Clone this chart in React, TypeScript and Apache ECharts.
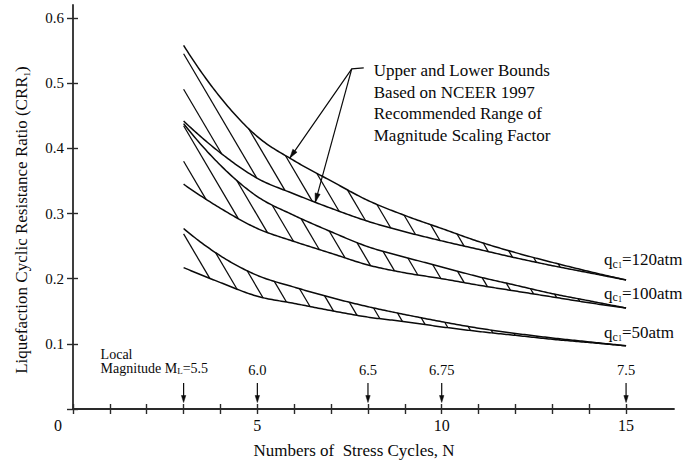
import React, { useEffect, useRef } from 'react';
import * as echarts from 'echarts';

// ---------- data ----------
const cycles = [3, 4, 5, 6, 7, 8, 9, 10, 11, 12, 13, 14, 15];
const upper120 = [0.558, 0.478, 0.418, 0.381, 0.350, 0.320, 0.297, 0.277, 0.257, 0.240, 0.225, 0.211, 0.198];
const lower120 = [0.442, 0.393, 0.354, 0.330, 0.308, 0.288, 0.272, 0.258, 0.245, 0.232, 0.220, 0.209, 0.198];
const upper100 = [0.438, 0.374, 0.326, 0.297, 0.272, 0.249, 0.233, 0.218, 0.203, 0.190, 0.177, 0.166, 0.155];
const lower100 = [0.345, 0.308, 0.277, 0.257, 0.239, 0.221, 0.209, 0.200, 0.190, 0.181, 0.172, 0.163, 0.155];
const upper50 = [0.277, 0.235, 0.205, 0.187, 0.171, 0.157, 0.145, 0.134, 0.124, 0.116, 0.109, 0.103, 0.097];
const lower50 = [0.217, 0.194, 0.173, 0.162, 0.151, 0.141, 0.134, 0.126, 0.119, 0.113, 0.107, 0.102, 0.097];
const bandNames = ['120', '100', '50'];
const magnitudeCycles = [3, 5, 8, 10, 15];
const magnitudeLabels = ['5.5', '6.0', '6.5', '6.75', '7.5'];
const xTickValues = [0, 1, 2, 3, 4, 5, 6, 7, 8, 9, 10, 11, 12, 13, 14, 15];
const xLabelValues = [0, 5, 10, 15];
const yTickValues = [0, 0.1, 0.2, 0.3, 0.4, 0.5, 0.6];
const yLabelValues = [0.1, 0.2, 0.3, 0.4, 0.5, 0.6];
const annotationLines = [
  'Upper and Lower Bounds',
  'Based on NCEER 1997',
  'Recommended Range of',
  'Magnitude Scaling Factor',
];
const pointerCycles = [5.88, 6.57];

// ---------- styles ----------
const FONT = "'Liberation Serif', 'Times New Roman', serif";
const INK = '#0a0a0a';
const AXIS = '#2a2a2a';
const HATCH_SLOPE = 0.0961; // CRR drop per cycle along a hatch line
const HATCH_STEP = 0.0545;
const hatchPhase = [0.779, 0.723, 0.557];
const labelLift = [20, 15, 13];
const annotationAnchor = [7.56, 0.522];

const uppers = [upper120, upper100, upper50];
const lowers = [lower120, lower100, lower50];

function interp(vals: number[], n: number): number {
  const last = cycles.length - 1;
  if (n <= cycles[0]) return vals[0];
  if (n >= cycles[last]) return vals[last];
  let i = 0;
  while (i < last - 1 && n > cycles[i + 1]) i++;
  const h = cycles[i + 1] - cycles[i];
  const u = (n - cycles[i]) / h;
  const tan = (k: number) => {
    if (k === 0) return (-3 * vals[0] + 4 * vals[1] - vals[2]) / (2 * h);
    if (k === last) return (3 * vals[last] - 4 * vals[last - 1] + vals[last - 2]) / (2 * h);
    return (vals[k + 1] - vals[k - 1]) / (cycles[k + 1] - cycles[k - 1]);
  };
  const m0 = tan(i) * h;
  const m1 = tan(i + 1) * h;
  const u2 = u * u;
  const u3 = u2 * u;
  return (2 * u3 - 3 * u2 + 1) * vals[i] + (u3 - 2 * u2 + u) * m0 + (-2 * u3 + 3 * u2) * vals[i + 1] + (u3 - u2) * m1;
}

function solve(vals: number[], K: number): number {
  const g = (n: number) => interp(vals, n) + HATCH_SLOPE * n;
  let a = cycles[0];
  let b = cycles[cycles.length - 1];
  if (K <= g(a)) return a;
  if (K >= g(b)) return b;
  for (let k = 0; k < 50; k++) {
    const m = (a + b) / 2;
    if (g(m) < K) a = m;
    else b = m;
  }
  return (a + b) / 2;
}

function arrowHead(tip: number[], from: number[], len: number, half: number) {
  const dx = tip[0] - from[0];
  const dy = tip[1] - from[1];
  const d = Math.hypot(dx, dy) || 1;
  const ux = dx / d;
  const uy = dy / d;
  const bx = tip[0] - ux * len;
  const by = tip[1] - uy * len;
  return {
    type: 'polygon',
    shape: { points: [tip, [bx - uy * half, by + ux * half], [bx + uy * half, by - ux * half]] },
    style: { fill: INK, stroke: INK, lineWidth: 0.5 },
  };
}

export default function App() {
  const ref = useRef<HTMLDivElement>(null);
  useEffect(() => {
    if (!ref.current) return;
    const chart = echarts.init(ref.current, undefined, { renderer: 'svg' });

    const bandSeries = {
      type: 'custom',
      name: 'bands',
      xAxisIndex: 0,
      yAxisIndex: 0,
      data: [[0, 0], [1, 0], [2, 0]],
      renderItem: (params: any, api: any) => {
        const b = api.value(0) as number;
        const up = uppers[b];
        const lo = lowers[b];
        const children: any[] = [];
        const ptsU: number[][] = [];
        const ptsL: number[][] = [];
        for (let n = cycles[0]; n <= cycles[cycles.length - 1] + 1e-6; n += 0.05) {
          ptsU.push(api.coord([n, interp(up, n)]));
          ptsL.push(api.coord([n, interp(lo, n)]));
        }
        children.push({ type: 'polyline', shape: { points: ptsU }, style: { stroke: INK, lineWidth: 1.5, fill: 'none' } });
        children.push({ type: 'polyline', shape: { points: ptsL }, style: { stroke: INK, lineWidth: 1.5, fill: 'none' } });
        const n0 = cycles[0];
        const n1 = cycles[cycles.length - 1];
        const gU0 = interp(up, n0) + HATCH_SLOPE * n0;
        const gL0 = interp(lo, n0) + HATCH_SLOPE * n0;
        const gU1 = interp(up, n1) + HATCH_SLOPE * n1;
        for (let j = -30; j < 60; j++) {
          const K = hatchPhase[b] + j * HATCH_STEP;
          if (K < gL0 || K > gU1) continue;
          const nStart = K <= gU0 ? n0 : solve(up, K);
          const nEnd = solve(lo, K);
          if (nEnd - nStart < 0.02) continue;
          const p1 = api.coord([nStart, K - HATCH_SLOPE * nStart]);
          const p2 = api.coord([nEnd, K - HATCH_SLOPE * nEnd]);
          children.push({ type: 'line', shape: { x1: p1[0], y1: p1[1], x2: p2[0], y2: p2[1] }, style: { stroke: INK, lineWidth: 1.25 } });
        }
        const end = api.coord([n1, up[up.length - 1]]);
        children.push({
          type: 'text',
          x: end[0] - 22,
          y: end[1] - labelLift[b],
          style: {
            text: `q{c|c}{one|1}=${bandNames[b]}atm`,
            fill: INK,
            fontFamily: FONT,
            fontSize: 17,
            lineHeight: 20,
            align: 'left',
            verticalAlign: 'middle',
            rich: {
              c: { fontFamily: FONT, fontSize: 12, lineHeight: 12, verticalAlign: 'bottom', fill: INK },
              one: { fontFamily: FONT, fontSize: 8, lineHeight: 8, verticalAlign: 'bottom', fill: INK },
            },
          },
        });
        return { type: 'group', children };
      },
      z: 5,
    };

    const magnitudeSeries = {
      type: 'custom',
      name: 'magnitudes',
      xAxisIndex: 0,
      yAxisIndex: 0,
      data: magnitudeCycles.map((n, i) => [n, 0, i]),
      renderItem: (params: any, api: any) => {
        const i = api.value(2) as number;
        const p = api.coord([api.value(0), 0]);
        const children: any[] = [];
        children.push({ type: 'line', shape: { x1: p[0], y1: p[1] - 26, x2: p[0], y2: p[1] - 12 }, style: { stroke: INK, lineWidth: 1.2 } });
        children.push(arrowHead([p[0], p[1] - 6.5], [p[0], p[1] - 26], 7, 2.2));
        if (i === 0) {
          children.push({
            type: 'text',
            x: p[0] - 83,
            y: p[1] - 62,
            style: {
              text: `Local\nMagnitude M{s|L}=${magnitudeLabels[i]}`,
              fill: INK,
              fontFamily: FONT,
              fontSize: 14,
              lineHeight: 14,
              align: 'left',
              verticalAlign: 'top',
              rich: { s: { fontFamily: FONT, fontSize: 9, lineHeight: 9, verticalAlign: 'bottom', fill: INK } },
            },
          });
        } else {
          children.push({
            type: 'text',
            x: p[0],
            y: p[1] - 39,
            style: { text: magnitudeLabels[i], fill: INK, fontFamily: FONT, fontSize: 14.5, align: 'center', verticalAlign: 'middle' },
          });
        }
        return { type: 'group', children };
      },
      z: 6,
    };

    const annotationSeries = {
      type: 'custom',
      name: 'annotation',
      xAxisIndex: 0,
      yAxisIndex: 0,
      data: [[annotationAnchor[0], annotationAnchor[1]]],
      renderItem: (params: any, api: any) => {
        const v = api.coord([api.value(0), api.value(1)]);
        const tipA = api.coord([pointerCycles[0], interp(upper120, pointerCycles[0])]);
        const tipB = api.coord([pointerCycles[1], interp(lower120, pointerCycles[1])]);
        const children: any[] = [];
        const st = { stroke: INK, lineWidth: 1.2 };
        children.push({ type: 'polyline', shape: { points: [[v[0] + 12, v[1] - 1], v, tipA] }, style: { ...st, fill: 'none' } });
        children.push({ type: 'line', shape: { x1: v[0], y1: v[1], x2: tipB[0], y2: tipB[1] }, style: st });
        children.push(arrowHead(tipA, v, 9, 2.6));
        children.push(arrowHead(tipB, v, 9, 2.6));
        children.push({
          type: 'text',
          x: v[0] + 22,
          y: v[1] - 9,
          style: {
            text: annotationLines.join('\n'),
            fill: INK,
            fontFamily: FONT,
            fontSize: 17,
            lineHeight: 21.6,
            align: 'left',
            verticalAlign: 'top',
          },
        });
        return { type: 'group', children };
      },
      z: 7,
    };

    const xCommon = { type: 'value', min: 0, max: 16.3, splitLine: { show: false } };
    const yCommon = { type: 'value', min: 0, max: 0.62, splitLine: { show: false } };

    chart.setOption({
      animation: false,
      backgroundColor: '#ffffff',
      grid: { left: 73, right: 12, top: 5, bottom: 54, containLabel: false },
      xAxis: [
        {
          ...xCommon,
          position: 'bottom',
          axisLine: { show: true, onZero: false, lineStyle: { color: AXIS, width: 1.8 } },
          axisTick: { show: true, length: 5, customValues: xTickValues, lineStyle: { color: AXIS, width: 1.4 } },
          axisLabel: {
            show: true,
            customValues: xLabelValues,
            margin: 8,
            color: INK,
            fontFamily: FONT,
            fontSize: 16,
            formatter: (v: number) => (v === 0 ? '{o|0}' : String(v)),
            rich: { o: { fontFamily: FONT, fontSize: 16, color: INK, padding: [0, 30, 0, 0] } },
          },
        },
        {
          ...xCommon,
          position: 'bottom',
          offset: 0,
          axisLine: { show: false },
          axisTick: { show: true, inside: true, length: 5, customValues: xTickValues, lineStyle: { color: AXIS, width: 1.4 } },
          axisLabel: { show: false },
        },
      ],
      yAxis: [
        {
          ...yCommon,
          position: 'left',
          axisLine: { show: true, onZero: false, lineStyle: { color: AXIS, width: 1.8 } },
          axisTick: { show: true, length: 6, customValues: yTickValues, lineStyle: { color: AXIS, width: 1.4 } },
          axisLabel: {
            show: true,
            customValues: yLabelValues,
            margin: 9,
            color: INK,
            fontFamily: FONT,
            fontSize: 15,
            formatter: (v: number) => v.toFixed(1),
          },
        },
        {
          ...yCommon,
          position: 'left',
          offset: 0,
          axisLine: { show: false },
          axisTick: { show: true, inside: true, length: 5, customValues: yTickValues, lineStyle: { color: AXIS, width: 1.4 } },
          axisLabel: { show: false },
        },
      ],
      graphic: [
        {
          type: 'text',
          x: 21,
          y: 220,
          rotation: Math.PI / 2,
          style: {
            text: 'Liquefaction Cyclic Resistance Ratio (CRR{s|1})',
            fill: INK,
            fontFamily: FONT,
            fontSize: 17,
            lineHeight: 20,
            align: 'center',
            verticalAlign: 'middle',
            textAlign: 'center',
            textVerticalAlign: 'middle',
            rich: { s: { fontFamily: FONT, fontSize: 9, lineHeight: 9, verticalAlign: 'bottom', fill: INK } },
          },
        },
        {
          type: 'text',
          x: 354,
          y: 450,
          style: {
            text: 'Numbers of  Stress Cycles, N',
            fill: INK,
            fontFamily: FONT,
            fontSize: 17,
            align: 'center',
            verticalAlign: 'middle',
            textAlign: 'center',
            textVerticalAlign: 'middle',
          },
        },
      ],
      series: [bandSeries, magnitudeSeries, annotationSeries],
    } as any);

    return () => chart.dispose();
  }, []);

  return <div ref={ref} style={{ position: 'fixed', left: 0, top: 0, width: 686, height: 463, background: '#fff' }} />;
}
